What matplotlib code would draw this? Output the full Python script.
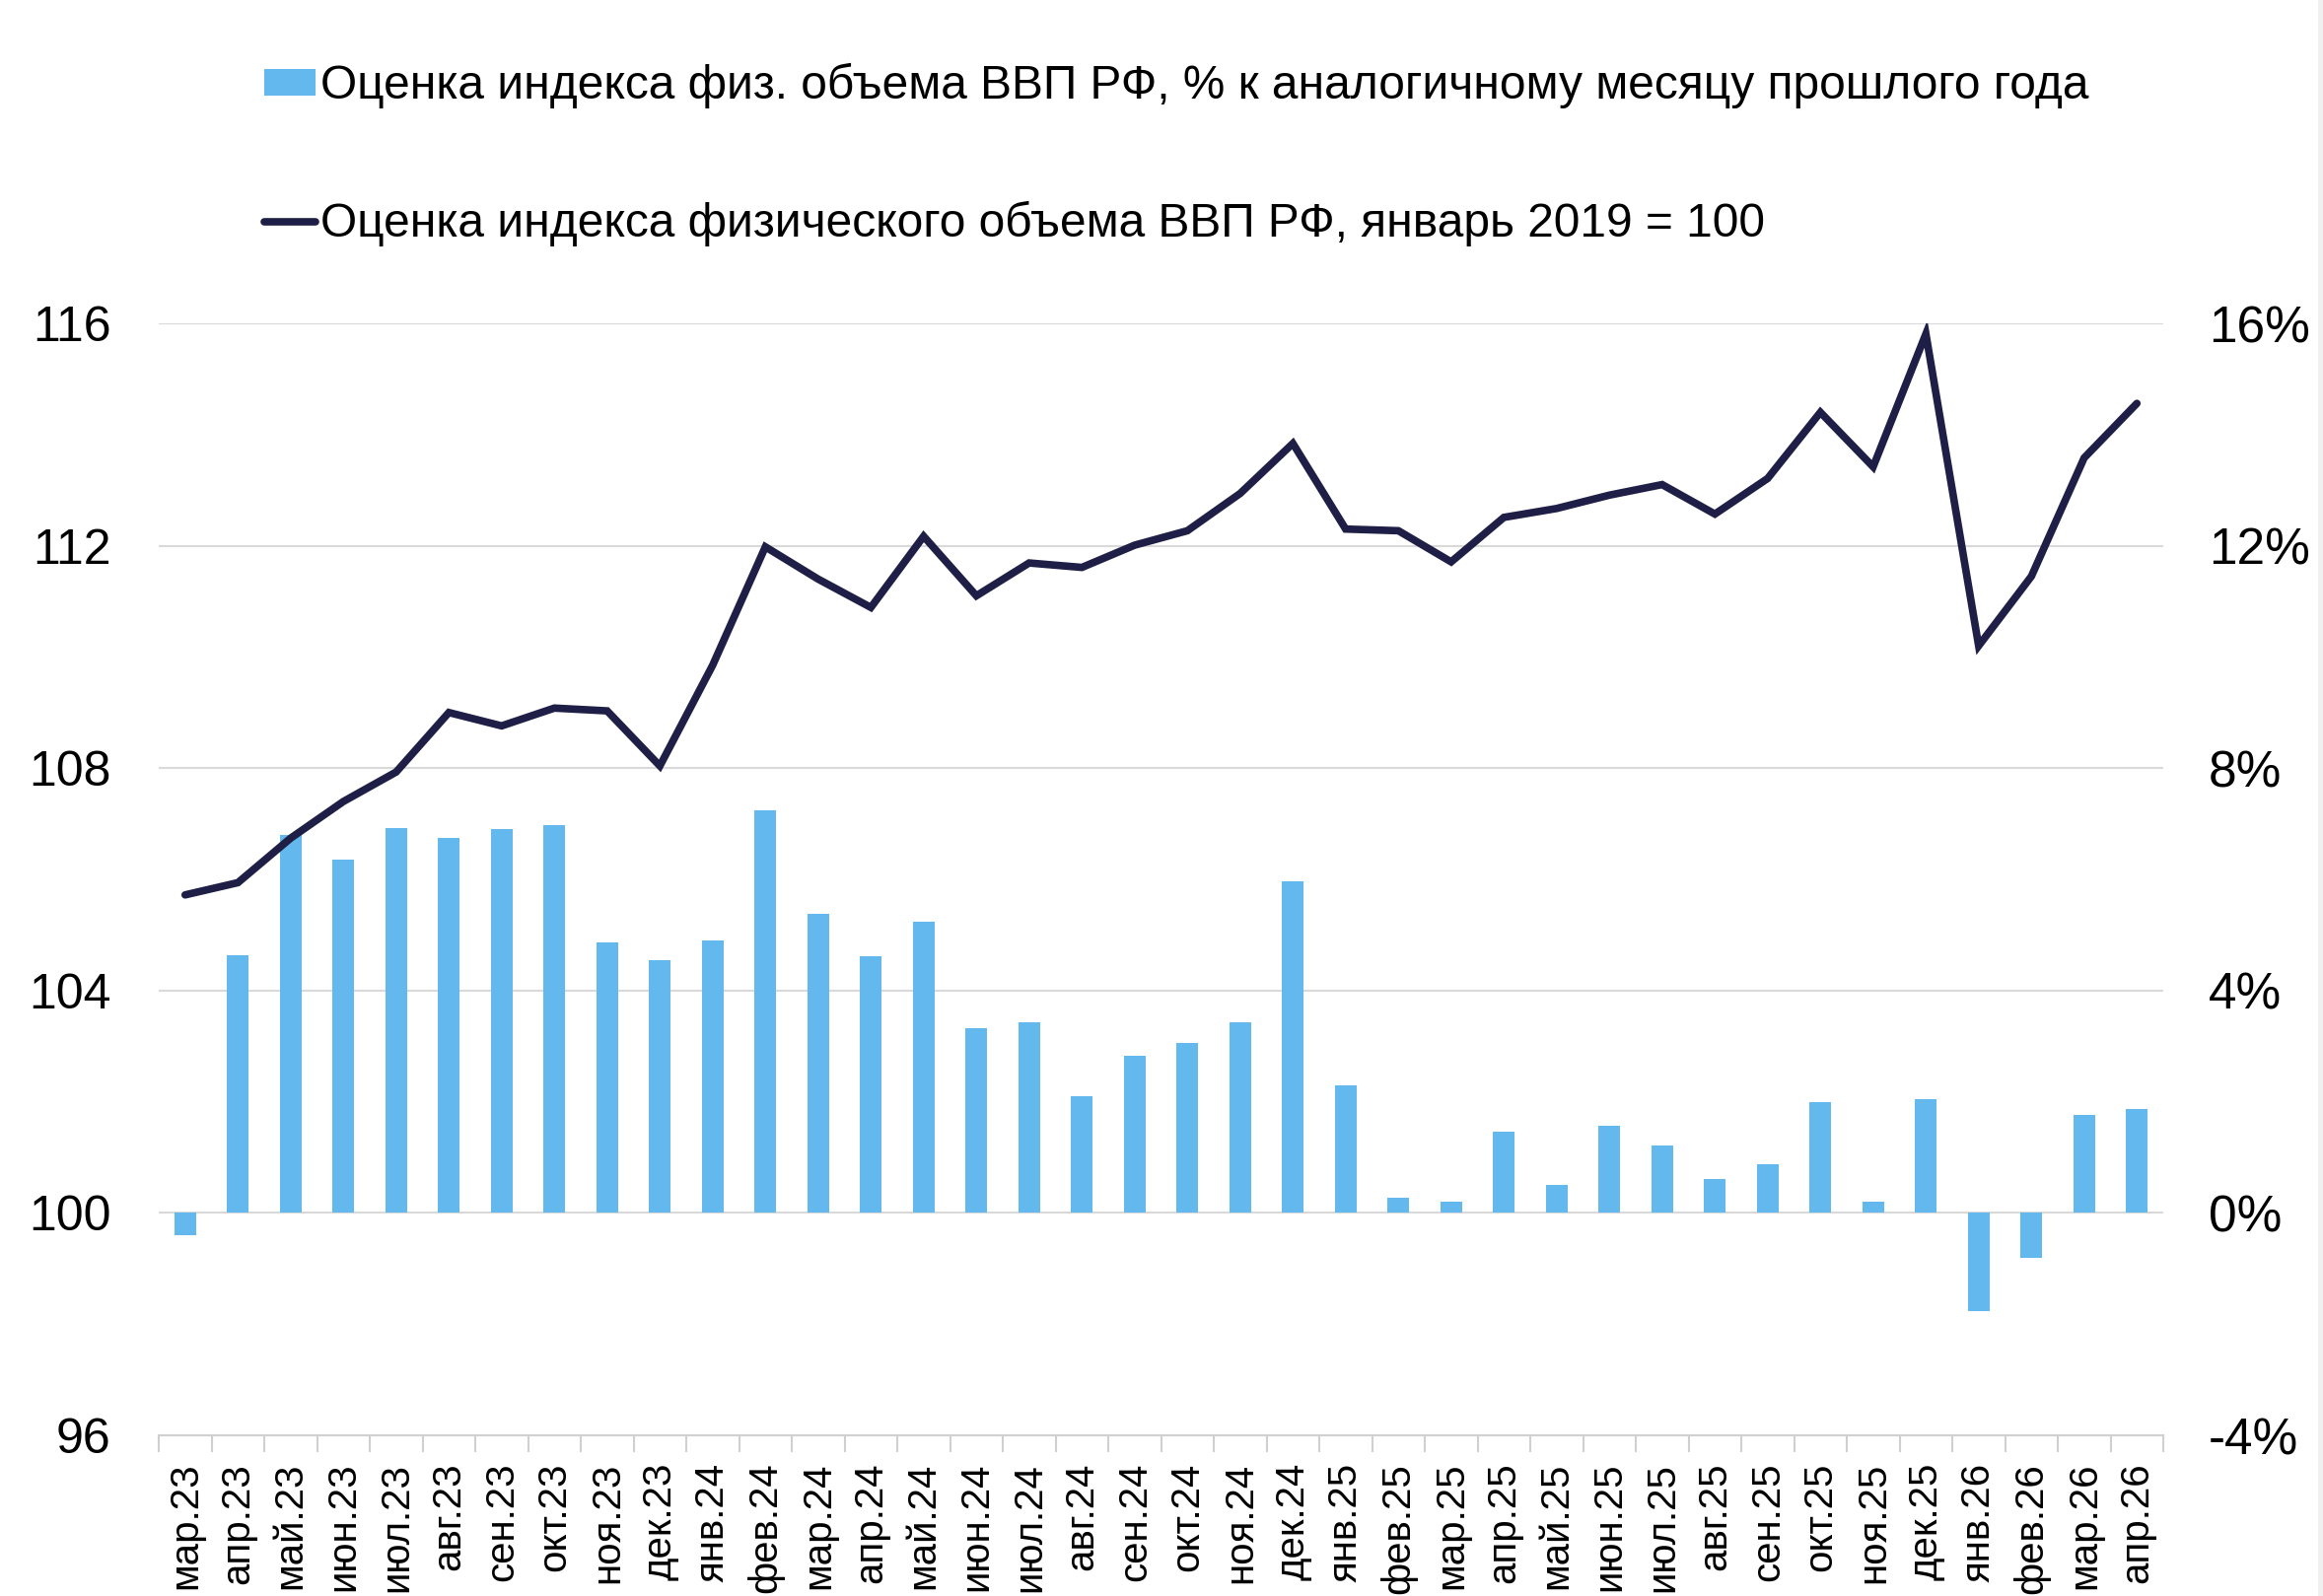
import matplotlib
matplotlib.use('Agg')
import matplotlib.pyplot as plt
from matplotlib.patches import Patch, Rectangle
from matplotlib.lines import Line2D

plt.rcParams['font.family'] = ['Liberation Sans', 'DejaVu Sans']

months = ['мар.23', 'апр.23', 'май.23', 'июн.23', 'июл.23', 'авг.23', 'сен.23', 'окт.23',
          'ноя.23', 'дек.23', 'янв.24', 'фев.24', 'мар.24', 'апр.24', 'май.24', 'июн.24',
          'июл.24', 'авг.24', 'сен.24', 'окт.24', 'ноя.24', 'дек.24', 'янв.25', 'фев.25',
          'мар.25', 'апр.25', 'май.25', 'июн.25', 'июл.25', 'авг.25', 'сен.25', 'окт.25',
          'ноя.25', 'дек.25', 'янв.26', 'фев.26', 'мар.26', 'апр.26']

# index, January 2019 = 100
gdp_index = [105.72, 105.94, 106.74, 107.40, 107.93, 109.00, 108.76, 109.08,
             109.03, 108.04, 109.85, 111.98, 111.40, 110.89, 112.17, 111.10,
             111.69, 111.61, 112.01, 112.27, 112.94, 113.84, 112.30, 112.27,
             111.71, 112.51, 112.67, 112.91, 113.10, 112.57, 113.21, 114.40,
             113.42, 115.81, 110.20, 111.45, 113.58, 114.56]

# % y/y
gdp_yoy = [-0.40, 4.63, 6.79, 6.36, 6.92, 6.74, 6.90, 6.98,
           4.87, 4.55, 4.90, 7.24, 5.38, 4.61, 5.24, 3.33,
           3.43, 2.10, 2.82, 3.06, 3.43, 5.96, 2.29, 0.27,
           0.21, 1.46, 0.51, 1.57, 1.22, 0.61, 0.88, 2.00,
           0.21, 2.05, -1.76, -0.80, 1.76, 1.86]

left_ticks = [96, 100, 104, 108, 112, 116]
right_ticks = [-4, 0, 4, 8, 12, 16]

bar_color = '#63b9ee'
line_color = '#1e1e46'

fig = plt.figure(figsize=(23.56, 16.19), dpi=100)
# thin grey strip on the right edge of the original slide
fig.patches.append(Rectangle((2351 / 2356, 0), 5 / 2356, 1, transform=fig.transFigure,
                             facecolor='#f0f0f0', edgecolor='none'))

ax = fig.add_axes([161 / 2356, 1 - 1456 / 1619, (2194 - 161) / 2356, (1456 - 328) / 1619])
x = list(range(len(months)))

# bars on the percent scale (right), line on the index scale (left)
ax.bar(x, gdp_yoy, width=0.42, color=bar_color, zorder=2)
ax.set_ylim(-4, 16)
ax.set_xlim(-0.5, len(months) - 0.5)
for v in right_ticks[1:]:
    ax.axhline(v, color='#d9d9d9', lw=1.5, zorder=0)

ax2 = ax.twinx()
ax2.plot(x, gdp_index, color=line_color, lw=5.5, solid_joinstyle='miter',
         solid_capstyle='round', zorder=3)
ax2.set_ylim(96, 116)

ax.yaxis.tick_right()
ax.set_yticks(right_ticks)
ax.set_yticklabels([f'{v}%' for v in right_ticks])
ax2.yaxis.tick_left()
ax2.set_yticks(left_ticks)

for a in (ax, ax2):
    for s in ['top', 'left', 'right']:
        a.spines[s].set_visible(False)
    a.tick_params(axis='y', length=0, labelsize=36, pad=35)
ax.tick_params(axis='y', labelsize=37, pad=33)
ax2.spines['bottom'].set_visible(False)
ax.spines['bottom'].set_color('#d0d0d0')
ax.spines['bottom'].set_linewidth(1.5)

# category ticks at boundaries, labels at centers
ax.set_xticks([i - 0.5 for i in range(len(months) + 1)])
ax.set_xticklabels([])
ax.set_xticks(x, minor=True)
ax.set_xticklabels(months, minor=True, rotation=90, fontsize=29, va='top')
ax.tick_params(axis='x', which='major', length=12, width=1.5, color='#d0d0d0')
ax.tick_params(axis='x', which='minor', length=0, pad=20)

handles = [Patch(facecolor=bar_color, edgecolor='none'),
           Line2D([0], [0], color=line_color, lw=5.5, solid_capstyle='round')]
labels = ['Оценка индекса физ. объема ВВП РФ, % к аналогичному месяцу прошлого года',
          'Оценка индекса физического объема ВВП РФ, январь 2019 = 100']
fig.legend(handles, labels, loc='upper left', bbox_to_anchor=(268 / 2356, 1 - 64 / 1619),
           frameon=False, fontsize=34.5, handlelength=1.08, handleheight=0.5,
           handletextpad=0.1, labelspacing=1.95, borderpad=0, borderaxespad=0)

plt.savefig('out.png', dpi=100)
